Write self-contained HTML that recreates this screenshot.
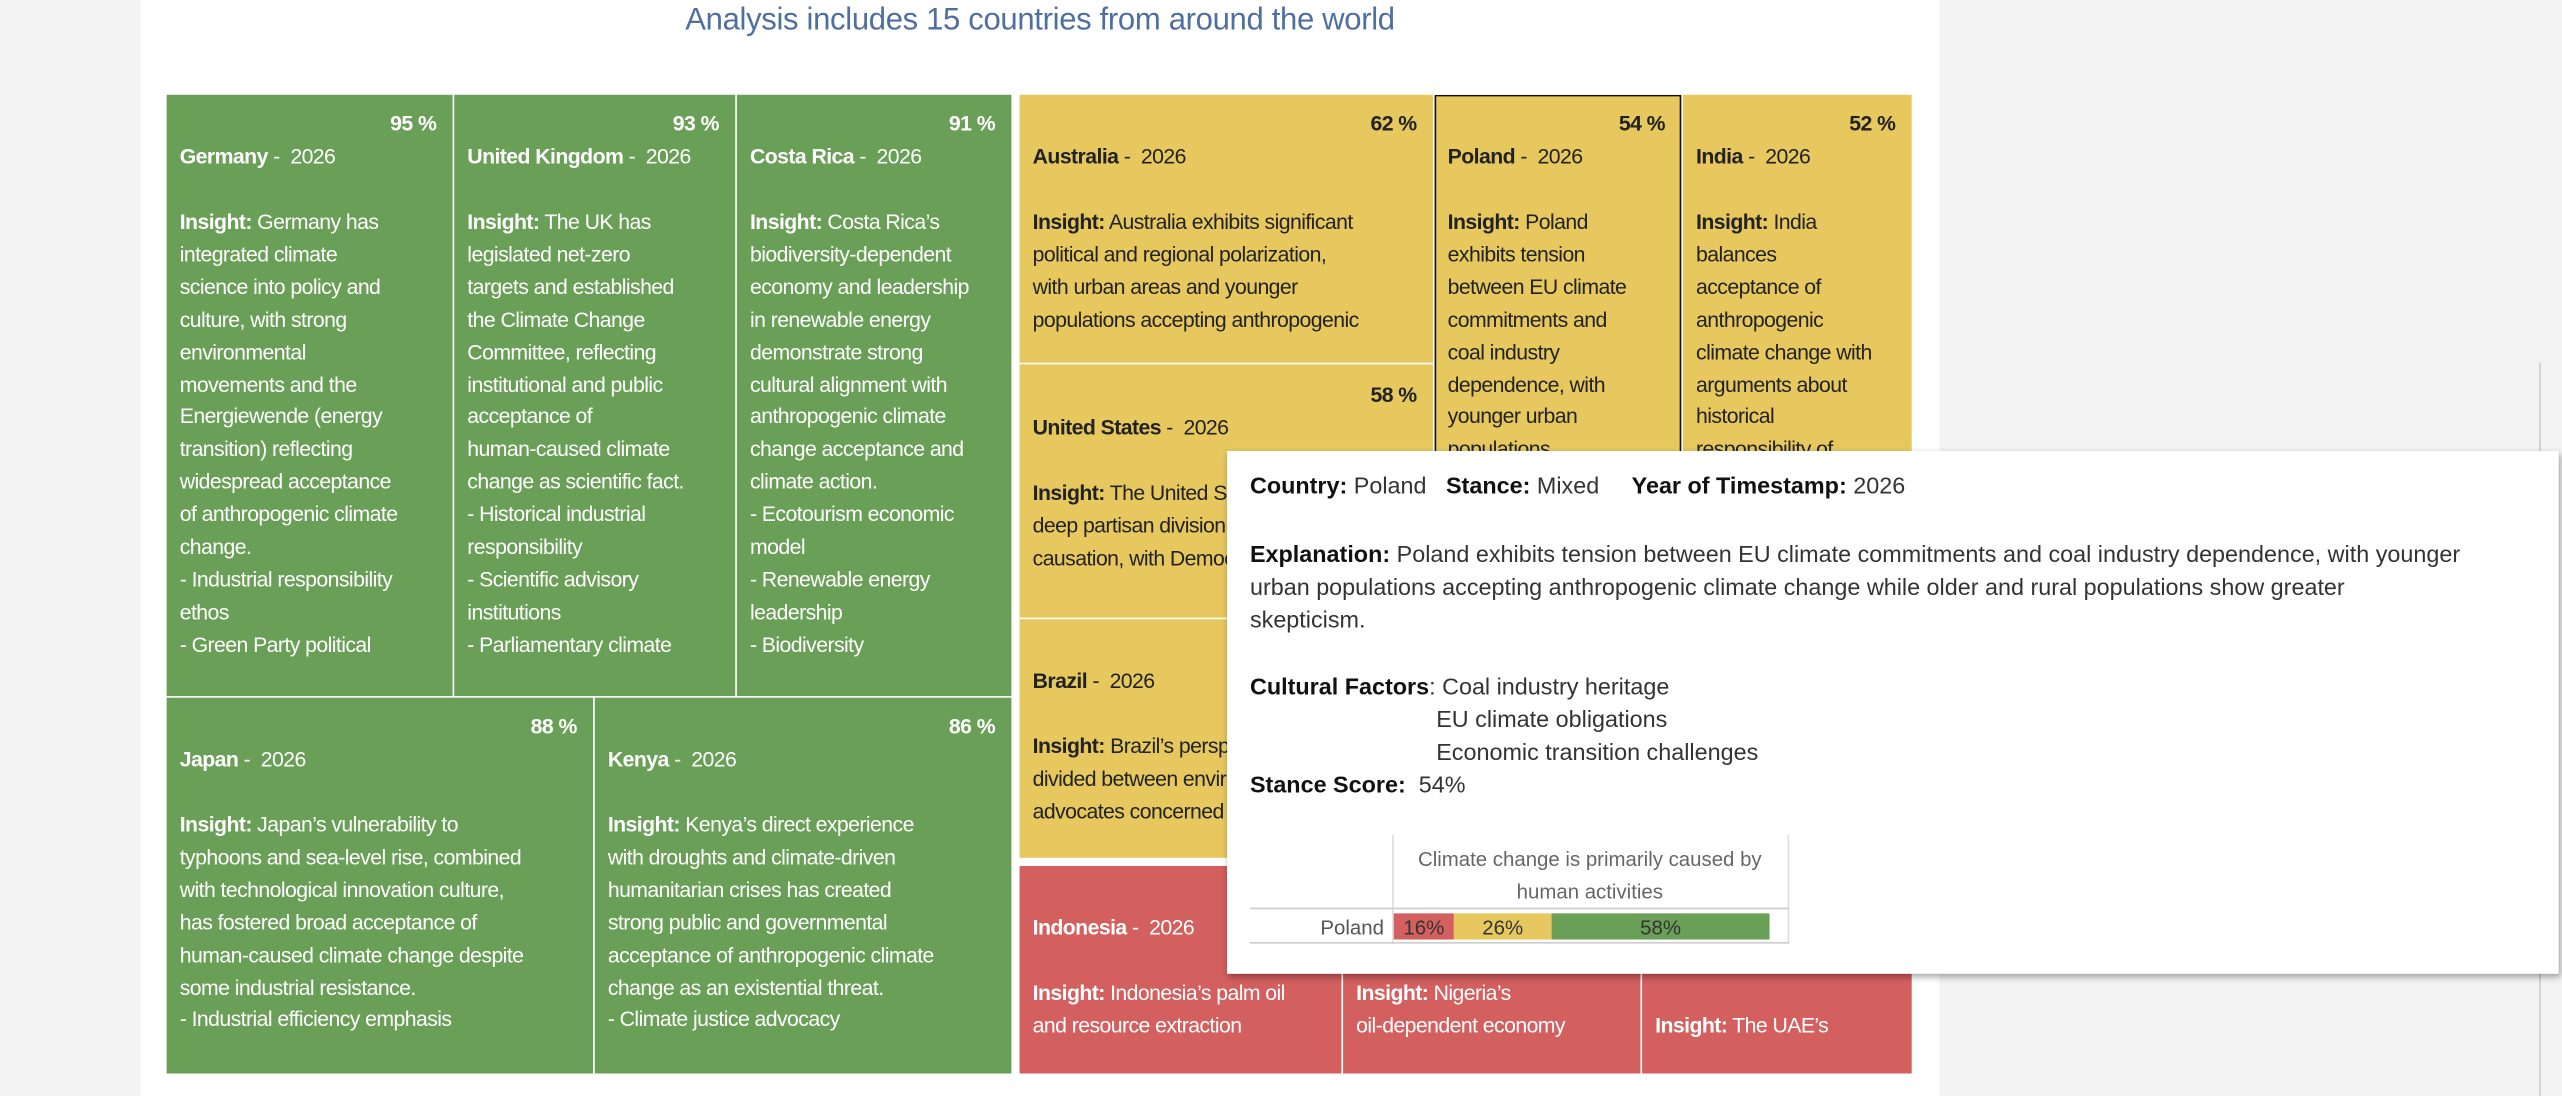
<!DOCTYPE html>
<html><head><meta charset="utf-8"><style>
html,body{margin:0;padding:0;width:2562px;height:1096px;overflow:hidden;background:#f3f3f3}
#wrap{position:absolute;left:0;top:0;width:1568px;height:671px;transform:scale(1.63393);transform-origin:0 0;font-family:"Liberation Sans",sans-serif}
.panel{position:absolute;left:86px;top:0;width:1101px;height:671px;background:#fff}
.title{position:absolute;left:86px;width:1101px;top:2px;text-align:center;color:#4e6fa0;font-size:19px;letter-spacing:-0.2px}
.t{position:absolute;overflow:hidden;font-size:13px;line-height:19.9px;white-space:nowrap;letter-spacing:-0.35px;box-sizing:border-box;padding-left:8px}
.g{background:#6a9f58;color:#fff}.y{background:#e6c85e;color:#222}.r{background:#d35f5f;color:#fff}
.t .p{position:absolute;right:10px;font-weight:bold}
.t .n{position:absolute;left:8px}
.t .i{position:absolute;left:8px}
b{font-weight:bold}
.tip{position:absolute;left:751px;top:276px;width:815px;height:320px;background:#fff;box-shadow:1px 2px 4px rgba(0,0,0,.35);font-size:14.3px;color:#333;letter-spacing:0}
.tip div{position:absolute;white-space:nowrap}
.tip b{color:#111}
</style></head><body>
<div id="wrap">
<div class="panel"></div>
<div class="title">Analysis includes 15 countries from around the world</div>

<div class="t g" style="left:102px;top:58px;width:175px;height:368px"><span class="p" style="top:8px">95 %</span><span class="n" style="top:28px"><b>Germany</b> -&nbsp; 2026</span><span class="i" style="top:68px"><b>Insight:</b> Germany has<br>integrated climate<br>science into policy and<br>culture, with strong<br>environmental<br>movements and the<br>Energiewende (energy<br>transition) reflecting<br>widespread acceptance<br>of anthropogenic climate<br>change.<br>- Industrial responsibility<br>ethos<br>- Green Party political</span></div>
<div class="t g" style="left:278px;top:58px;width:172px;height:368px"><span class="p" style="top:8px">93 %</span><span class="n" style="top:28px"><b>United Kingdom</b> -&nbsp; 2026</span><span class="i" style="top:68px"><b>Insight:</b> The UK has<br>legislated net-zero<br>targets and established<br>the Climate Change<br>Committee, reflecting<br>institutional and public<br>acceptance of<br>human-caused climate<br>change as scientific fact.<br>- Historical industrial<br>responsibility<br>- Scientific advisory<br>institutions<br>- Parliamentary climate</span></div>
<div class="t g" style="left:451px;top:58px;width:168px;height:368px"><span class="p" style="top:8px">91 %</span><span class="n" style="top:28px"><b>Costa Rica</b> -&nbsp; 2026</span><span class="i" style="top:68px"><b>Insight:</b> Costa Rica’s<br>biodiversity-dependent<br>economy and leadership<br>in renewable energy<br>demonstrate strong<br>cultural alignment with<br>anthropogenic climate<br>change acceptance and<br>climate action.<br>- Ecotourism economic<br>model<br>- Renewable energy<br>leadership<br>- Biodiversity</span></div>
<div class="t g" style="left:102px;top:427px;width:261px;height:230px"><span class="p" style="top:8px">88 %</span><span class="n" style="top:28px"><b>Japan</b> -&nbsp; 2026</span><span class="i" style="top:68px"><b>Insight:</b> Japan’s vulnerability to<br>typhoons and sea-level rise, combined<br>with technological innovation culture,<br>has fostered broad acceptance of<br>human-caused climate change despite<br>some industrial resistance.<br>- Industrial efficiency emphasis</span></div>
<div class="t g" style="left:364px;top:427px;width:255px;height:230px"><span class="p" style="top:8px">86 %</span><span class="n" style="top:28px"><b>Kenya</b> -&nbsp; 2026</span><span class="i" style="top:68px"><b>Insight:</b> Kenya’s direct experience<br>with droughts and climate-driven<br>humanitarian crises has created<br>strong public and governmental<br>acceptance of anthropogenic climate<br>change as an existential threat.<br>- Climate justice advocacy</span></div>

<div class="t y" style="left:624px;top:58px;width:253px;height:164px"><span class="p" style="top:8px">62 %</span><span class="n" style="top:28px"><b>Australia</b> -&nbsp; 2026</span><span class="i" style="top:68px"><b>Insight:</b> Australia exhibits significant<br>political and regional polarization,<br>with urban areas and younger<br>populations accepting anthropogenic</span></div>
<div class="t y" style="left:624px;top:223px;width:253px;height:155px"><span class="p" style="top:9px">58 %</span><span class="n" style="top:29px"><b>United States</b> -&nbsp; 2026</span><span class="i" style="top:69px"><b>Insight:</b> The United States shows<br>deep partisan division on climate<br>causation, with Democrats</span></div>
<div class="t y" style="left:624px;top:379px;width:253px;height:146px"><span class="n" style="top:28px"><b>Brazil</b> -&nbsp; 2026</span><span class="i" style="top:68px"><b>Insight:</b> Brazil’s perspectives are<br>divided between environmental<br>advocates concerned</span></div>
<div class="t y" style="left:878px;top:58px;width:151px;height:467px;box-shadow:inset 0 0 0 1px #111"><span class="p" style="top:8px">54 %</span><span class="n" style="top:28px"><b>Poland</b> -&nbsp; 2026</span><span class="i" style="top:68px"><b>Insight:</b> Poland<br>exhibits tension<br>between EU climate<br>commitments and<br>coal industry<br>dependence, with<br>younger urban<br>populations</span></div>
<div class="t y" style="left:1030px;top:58px;width:140px;height:467px"><span class="p" style="top:8px">52 %</span><span class="n" style="top:28px"><b>India</b> -&nbsp; 2026</span><span class="i" style="top:68px"><b>Insight:</b> India<br>balances<br>acceptance of<br>anthropogenic<br>climate change with<br>arguments about<br>historical<br>responsibility of</span></div>

<div class="t r" style="left:624px;top:530px;width:197px;height:127px"><span class="n" style="top:28px"><b>Indonesia</b> -&nbsp; 2026</span><span class="i" style="top:68px"><b>Insight:</b> Indonesia’s palm oil<br>and resource extraction</span></div>
<div class="t r" style="left:822px;top:530px;width:182px;height:127px"><span class="n" style="top:28px"><b>Nigeria</b> -&nbsp; 2026</span><span class="i" style="top:68px"><b>Insight:</b> Nigeria’s<br>oil-dependent economy</span></div>
<div class="t r" style="left:1005px;top:530px;width:165px;height:127px"><span class="i" style="top:88px"><b>Insight:</b> The UAE’s</span></div>

<div style="position:absolute;left:1554px;top:222px;width:1px;height:449px;background:#ccc"></div>

<div class="tip">
<div style="left:14px;top:14px"><b>Country:</b> Poland &nbsp;&nbsp;<b>Stance:</b> Mixed &nbsp;&nbsp;&nbsp;&nbsp;<b>Year of Timestamp:</b> 2026</div>
<div style="left:14px;top:54px;line-height:20px"><b>Explanation:</b> Poland exhibits tension between EU climate commitments and coal industry dependence, with younger<br>urban populations accepting anthropogenic climate change while older and rural populations show greater<br>skepticism.</div>
<div style="left:14px;top:135px;line-height:20px"><b>Cultural Factors</b>: Coal industry heritage</div>
<div style="left:128px;top:155px;line-height:20px">EU climate obligations<br>Economic transition challenges</div>
<div style="left:14px;top:195px;line-height:20px"><b>Stance Score:</b>&nbsp; 54%</div>
<svg id="mini" style="position:absolute;left:0;top:230px" width="400" height="80"></svg>
</div>
</div>
<script>
const categories=["Poland"];
const segLabels=["Disagree","Neutral","Agree"];
const segValues=[16,26,58];
const segColors=["#d35f5f","#e6c85e","#6a9f58"];
const ns="http://www.w3.org/2000/svg";
const svg=document.getElementById('mini');
function x(v){return 102+v*2.3;}
function mk(t,a){const e=document.createElementNS(ns,t);for(const k in a)e.setAttribute(k,a[k]);svg.appendChild(e);return e;}
let l=mk('line',{x1:101.5,y1:5,x2:101.5,y2:72,stroke:'#ddd'});

l=mk('line',{x1:343.5,y1:5,x2:343.5,y2:72,stroke:'#ddd'});

l=mk('line',{x1:14,y1:50,x2:344,y2:50,stroke:'#ccc'});

l=mk('line',{x1:14,y1:71,x2:344,y2:71,stroke:'#ccc'});

let t=mk('text',{x:222,y:24,'text-anchor':'middle','font-size':12.5,fill:'#666','font-family':'Liberation Sans, sans-serif'});t.textContent='Climate change is primarily caused by';

t=mk('text',{x:222,y:44,'text-anchor':'middle','font-size':12.5,fill:'#666','font-family':'Liberation Sans, sans-serif'});t.textContent='human activities';

t=mk('text',{x:96,y:66,'text-anchor':'end','font-size':12.5,fill:'#555','font-family':'Liberation Sans, sans-serif'});t.textContent=categories[0];

let acc=0;
segValues.forEach((v,i)=>{
 const r=mk('rect',{x:x(acc),y:53,width:x(acc+v)-x(acc),height:16,fill:segColors[i]});
 
 
 const tx=mk('text',{x:x(acc+v/2),y:66,'text-anchor':'middle','font-size':12.5,fill:'#333','font-family':'Liberation Sans, sans-serif'});
 tx.textContent=v+'%';
 
 
 acc+=v;
});
</script>
</body></html>
